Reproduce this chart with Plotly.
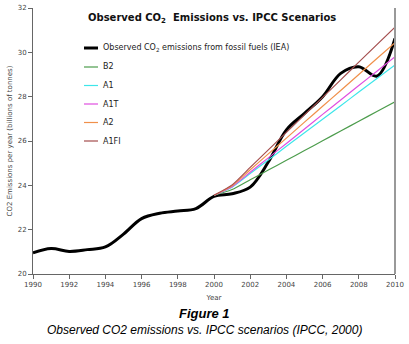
import plotly.graph_objects as go

years_obs = list(range(1990, 2011))
observed = [20.95, 21.15, 21.02, 21.1, 21.22, 21.8, 22.5, 22.74, 22.84, 22.95, 23.5,
            23.62, 23.92, 25.05, 26.5, 27.25, 28.0, 29.05, 29.35, 28.93, 30.63]

years_sc = list(range(2000, 2011))
b2 = [23.55, 23.81, 24.25, 24.69, 25.13, 25.57, 26.01, 26.45, 26.89, 27.33, 27.77]
a1 = [23.55, 23.92, 24.53, 25.14, 25.76, 26.37, 26.98, 27.59, 28.21, 28.82, 29.43]
a1t = [23.55, 23.94, 24.59, 25.24, 25.89, 26.54, 27.20, 27.85, 28.50, 29.15, 29.80]
a2 = [23.55, 23.98, 24.70, 25.42, 26.13, 26.85, 27.57, 28.28, 29.00, 29.72, 30.43]
a1fi = [23.55, 24.02, 24.81, 25.60, 26.39, 27.18, 27.97, 28.76, 29.56, 30.35, 31.14]

x_ticks = list(range(1990, 2011, 2))
y_ticks = list(range(20, 33, 2))

FONT = "DejaVu Sans"
L, R, T, B = 33, 14, 8, 70
W, H = 409, 344
PW, PH = W - L - R, H - T - B


def px(xp):
    return (xp - L) / PW


def py(yp):
    return (H - B - yp) / PH


fig = go.Figure()
obs_name = "Observed CO<sub>2</sub> emissions from fossil fuels (IEA)"
fig.add_trace(go.Scatter(x=years_obs, y=observed, mode="lines", name=obs_name,
                         line=dict(color="black", width=3, shape="spline", smoothing=1)))
scen = [("B2", b2, "#4c9c4c"), ("A1", a1, "#3ee6ea"), ("A1T", a1t, "#e04ee0"),
        ("A2", a2, "#f0904a"), ("A1FI", a1fi, "#a44e4e")]
for name, vals, col in scen:
    fig.add_trace(go.Scatter(x=years_sc, y=vals, mode="lines", name=name,
                             line=dict(color=col, width=1.2, shape="spline", smoothing=0.6)))

fig.update_layout(
    width=W, height=H,
    margin=dict(l=L, r=R, t=T, b=B),
    plot_bgcolor="white", paper_bgcolor="white",
    font=dict(family=FONT, size=7, color="#444"),
    showlegend=False,
    xaxis=dict(range=[1990, 2010], tickvals=x_ticks, ticks="outside", ticklen=4,
               tickcolor="#666", showline=True, linecolor="#666", linewidth=1,
               showgrid=False, zeroline=False, automargin=False,
               title=dict(text="Year", font=dict(size=7, family=FONT), standoff=6),
               tickfont=dict(size=7, family=FONT, color="#444")),
    yaxis=dict(range=[20, 32], tickvals=y_ticks, ticks="outside", ticklen=4,
               tickcolor="#666", showline=True, linecolor="#666", linewidth=1,
               showgrid=False, zeroline=False, automargin=False,
               title=dict(text="CO2 Emissions per year (billions of tonnes)",
                          font=dict(size=7, family=FONT), standoff=4),
               tickfont=dict(size=7, family=FONT, color="#444")),
)
fig.add_shape(type="line", xref="paper", yref="paper", x0=1, x1=1, y0=0, y1=1,
              line=dict(color="#999", width=2))

# legend drawn manually to match the short line samples
legend_items = [(obs_name, "black", 3)] + [(n, c, 1.2) for n, _, c in scen]
leg_y = [48, 67, 85.5, 104, 122.5, 141]
for (name, col, w), yp in zip(legend_items, leg_y):
    fig.add_shape(type="line", xref="paper", yref="paper", x0=px(84), x1=px(98),
                  y0=py(yp), y1=py(yp), line=dict(color=col, width=w))
    fig.add_annotation(text=name, xref="paper", yref="paper", x=px(101), y=py(yp),
                       xanchor="left", yanchor="middle", showarrow=False,
                       font=dict(family=FONT, size=8, color="#222"))

fig.add_annotation(text="<b>Observed CO<sub>2</sub>  Emissions vs. IPCC Scenarios</b>",
                   xref="paper", yref="paper", x=px(211.5), y=py(19), xanchor="center",
                   yanchor="middle", showarrow=False,
                   font=dict(family=FONT, size=10, color="#111"))
fig.add_annotation(text="<b><i>Figure 1</i></b>", xref="paper", yref="paper",
                   x=px(204), y=py(313), xanchor="center",
                   yanchor="middle", showarrow=False,
                   font=dict(family="Liberation Sans", size=13, color="black"))
fig.add_annotation(text="<i>Observed CO2 emissions vs. IPCC scenarios (IPCC, 2000)</i>",
                   xref="paper", yref="paper",
                   x=px(204), y=py(330), xanchor="center",
                   yanchor="middle", showarrow=False,
                   font=dict(family="Liberation Sans", size=12, color="black"))

fig.write_html("out.html", config={"displayModeBar": False},
               post_script="document.body.style.margin='0';document.body.style.overflow='hidden';")
